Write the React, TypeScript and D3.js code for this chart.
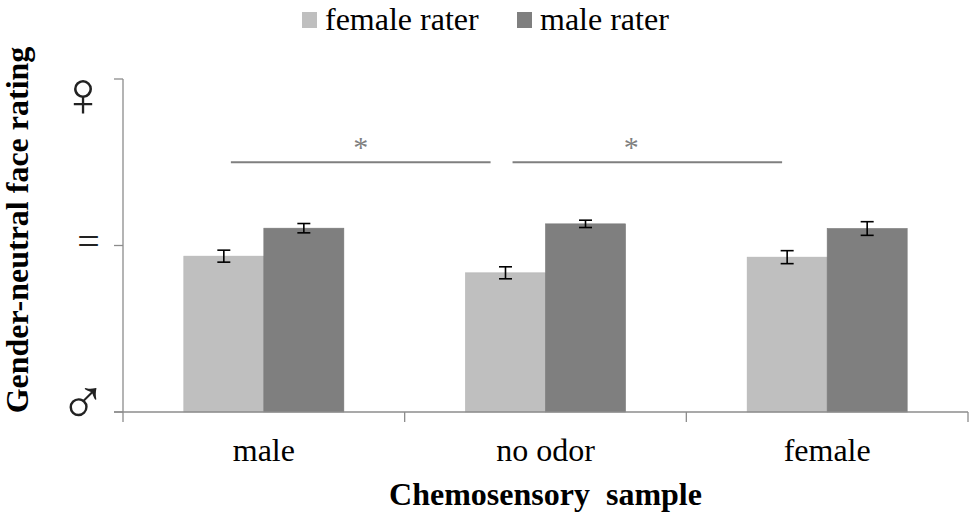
import React from "react";
import * as d3 from "d3";

const categories = ["male", "no odor", "female"];
const series = ["female rater", "male rater"];
const femaleRater = [-0.064, -0.164, -0.07];
const maleRater = [0.104, 0.13, 0.102];
const femaleRaterErr = [0.036, 0.036, 0.039];
const maleRaterErr = [0.028, 0.022, 0.041];
const yTickValues = [-1, 0, 1];
const yTickLabels = ["♂", "=", "♀"];
const sigBrackets = [
  { from: "male", fromFrac: 0.383, to: "no odor", toFrac: 0.305, starFrac: 0.5 },
  { from: "no odor", fromFrac: 0.383, to: "female", toFrac: 0.34, starFrac: 0.44 },
];
const sigLevel = 0.5;

const colors = ["#bfbfbf", "#7f7f7f"];
const serif = "'Liberation Serif', 'Times New Roman', serif";
const symFont = "'DejaVu Sans ExtraLight', 'DejaVu Sans', sans-serif";

export default function App() {
  const W = 975;
  const H = 520;
  const left = 123;
  const right = 968;
  const top = 79;
  const bottom = 412;

  const x = d3.scaleBand<string>().domain(categories).range([left, right]).padding(0);
  const x1 = d3.scaleBand<string>().domain(series).range([0, x.bandwidth()]).paddingInner(0).paddingOuter(0.76);
  const y = d3.scaleLinear().domain([-1, 1]).range([bottom, top]);

  const values = [femaleRater, maleRater];
  const errs = [femaleRaterErr, maleRaterErr];
  const boundaries = [...categories.map((c) => x(c)!), right];

  return (
    <svg width={W} height={H} style={{ position: "absolute", left: 0, top: 0, background: "#fff" }}>
      {/* legend */}
      {series.map((s, i) => {
        const lx = [302, 517][i];
        return (
          <g key={s}>
            <rect x={lx} y={12} width={15} height={16} fill={colors[i]} />
            <text x={lx + 23} y={30} fontFamily={serif} fontSize={32} fill="#000">
              {s}
            </text>
          </g>
        );
      })}

      {/* bars */}
      {series.map((s, si) =>
        categories.map((c, ci) => {
          const bx = x(c)! + x1(s)!;
          const v = values[si][ci];
          return (
            <rect
              key={s + c}
              x={bx}
              y={y(v)}
              width={x1.bandwidth()}
              height={y(-1) - y(v)}
              fill={colors[si]}
              stroke={d3.color(colors[si])!.darker(0.15).toString()}
              strokeWidth={0.6}
            />
          );
        })
      )}

      {/* error bars */}
      {series.map((s, si) =>
        categories.map((c, ci) => {
          const cx = x(c)! + x1(s)! + x1.bandwidth() / 2;
          const v = values[si][ci];
          const e = errs[si][ci];
          return (
            <g key={"e" + s + c} stroke="#000" strokeWidth={1.6}>
              <line x1={cx} x2={cx} y1={y(v + e)} y2={y(v - e)} />
              <line x1={cx - 6.5} x2={cx + 6.5} y1={y(v + e)} y2={y(v + e)} />
              <line x1={cx - 6.5} x2={cx + 6.5} y1={y(v - e)} y2={y(v - e)} />
            </g>
          );
        })
      )}

      {/* axes */}
      <g stroke="#8c8c8c" strokeWidth={1.3}>
        <line x1={left} x2={left} y1={y(1)} y2={bottom + 10} />
        {yTickValues.map((t) => (
          <line key={t} x1={left - 9} x2={left} y1={y(t)} y2={y(t)} />
        ))}
        <line x1={left - 9} x2={right} y1={bottom} y2={bottom} />
        {boundaries.slice(1).map((b, i) => (
          <line key={i} x1={b} x2={b} y1={bottom} y2={bottom + 10} />
        ))}
      </g>

      {/* y tick labels */}
      <text x={83} y={y(1) + 37} textAnchor="middle" fontFamily={symFont} fontWeight={200} fontSize={64} fill="#222">
        {yTickLabels[2]}
      </text>
      <text x={88.5} y={y(0) + 9} textAnchor="middle" fontFamily={serif} fontSize={40} fill="#222">
        {yTickLabels[1]}
      </text>
      <text x={83} y={y(-1) + 12} textAnchor="middle" fontFamily={symFont} fontWeight={200} fontSize={64} fill="#222">
        {yTickLabels[0]}
      </text>

      {/* x tick labels */}
      {categories.map((c) => (
        <text key={c} x={x(c)! + x.bandwidth() / 2} y={461} textAnchor="middle" fontFamily={serif} fontSize={32} fill="#000">
          {c}
        </text>
      ))}

      {/* significance */}
      {sigBrackets.map((b, i) => {
        const x0 = x(b.from)! + b.fromFrac * x.bandwidth();
        const x2 = x(b.to)! + b.toFrac * x.bandwidth();
        const sy = y(sigLevel);
        return (
          <g key={i}>
            <line x1={x0} x2={x2} y1={sy} y2={sy} stroke="#7f7f7f" strokeWidth={2.2} />
            <text x={x0 + (x2 - x0) * b.starFrac} y={sy - 5} textAnchor="middle" fontFamily={serif} fontSize={30} fill="#7f7f7f">
              *
            </text>
          </g>
        );
      })}

      {/* axis titles */}
      <text
        x={(left + right) / 2}
        y={505}
        textAnchor="middle"
        fontFamily={serif}
        fontWeight="bold"
        fontSize={32}
        style={{ whiteSpace: "pre" }}
        fill="#000"
      >
        {"Chemosensory  sample"}
      </text>
      <text
        transform={`translate(28, 230) rotate(-90)`}
        textAnchor="middle"
        fontFamily={serif}
        fontWeight="bold"
        fontSize={32}
        fill="#000"
      >
        Gender-neutral face rating
      </text>
    </svg>
  );
}
